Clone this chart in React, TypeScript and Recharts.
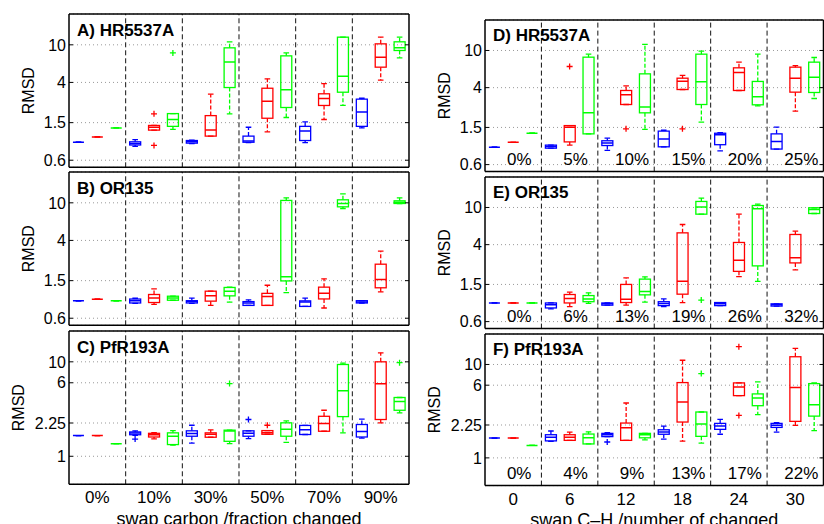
import React from 'react';
import { ComposedChart, Bar, Scatter, XAxis, YAxis, CartesianGrid, ReferenceLine } from 'recharts';

const FONT = '"Liberation Sans", Arial, Helvetica, sans-serif';
const COLORS = ['#0000ff', '#ff0000', '#00ff00'];
const DOMAIN: [number, number] = [0.505, 21.2];

const leftGroups = ['0%', '10%', '30%', '50%', '70%', '90%'];
const rightGroups = ['0', '6', '12', '18', '24', '30'];
const pctD = ['0%', '5%', '10%', '15%', '20%', '25%'];
const pctE = ['0%', '6%', '13%', '19%', '26%', '32%'];
const pctF = ['0%', '4%', '9%', '13%', '17%', '22%'];
const ticksAB = [0.6, 1.5, 4, 10];
const ticksCF = [1, 2.25, 6, 10];

// each box: [min, q1, median, q3, max]
const aBlue = [[0.93, 0.93, 0.93, 0.93, 0.93], [0.84, 0.87, 0.9, 0.94, 0.99], [0.9, 0.91, 0.94, 0.97, 0.98], [0.92, 0.93, 0.96, 1.08, 1.34], [0.92, 0.97, 1.22, 1.37, 1.53], [1.32, 1.37, 1.94, 2.66, 2.72]];
const aRed = [[1.06, 1.06, 1.06, 1.06, 1.06], [1.25, 1.25, 1.34, 1.4, 1.4], [1.08, 1.08, 1.25, 1.78, 3.0], [1.2, 1.67, 2.53, 3.47, 4.36], [1.62, 2.28, 2.7, 3.03, 3.89], [4.22, 5.8, 7.4, 10.24, 12.05]];
const aGreen = [[1.32, 1.32, 1.32, 1.32, 1.32], [1.27, 1.37, 1.62, 1.87, 1.87], [1.86, 3.53, 6.56, 9.29, 10.76], [1.7, 2.17, 3.34, 7.64, 8.2], [2.28, 3.15, 4.66, 12.05, 12.05], [7.28, 8.71, 9.29, 10.76, 12.05]];
const bBlue = [[0.916, 0.916, 0.916, 0.916, 0.916], [0.86, 0.87, 0.916, 0.958, 0.977], [0.86, 0.87, 0.9, 0.92, 0.98], [0.82, 0.82, 0.87, 0.9, 0.94], [0.8, 0.8, 0.89, 0.916, 0.98], [0.87, 0.87, 0.89, 0.92, 0.92]];
const bRed = [[0.954, 0.954, 0.954, 0.954, 0.954], [0.84, 0.88, 0.98, 1.07, 1.228], [0.82, 0.91, 1.035, 1.16, 1.16], [0.82, 0.82, 1.02, 1.1, 1.34], [0.77, 0.96, 1.1, 1.28, 1.566], [1.14, 1.26, 1.54, 2.24, 3.08]];
const bGreen = [[0.916, 0.916, 0.916, 0.916, 0.916], [0.93, 0.93, 0.98, 1.026, 1.026], [0.89, 1.035, 1.16, 1.27, 1.28], [1.12, 1.49, 1.645, 10.6, 11.3], [8.71, 9.07, 9.84, 10.76, 12.45], [9.84, 9.84, 10.16, 10.5, 11.3]];
const cBlue = [[1.656, 1.656, 1.656, 1.656, 1.656], [1.67, 1.69, 1.76, 1.81, 1.86], [1.38, 1.63, 1.74, 1.86, 2.13], [1.54, 1.63, 1.75, 1.86, 1.86], [1.7, 1.7, 1.91, 2.12, 2.12], [1.56, 1.6, 1.83, 2.17, 2.47]];
const cRed = [[1.656, 1.656, 1.656, 1.656, 1.656], [1.53, 1.6, 1.69, 1.75, 1.78], [1.59, 1.59, 1.71, 1.77, 1.9], [1.71, 1.71, 1.77, 1.87, 1.87], [1.84, 1.84, 2.22, 2.65, 3.07], [2.26, 2.45, 5.85, 10.0, 12.45]];
const cGreen = [[1.36, 1.36, 1.36, 1.36, 1.36], [1.31, 1.33, 1.63, 1.77, 1.87], [1.36, 1.44, 1.85, 1.89, 1.89], [1.4, 1.63, 1.93, 2.26, 2.37], [1.77, 2.63, 4.93, 9.37, 9.68], [2.88, 3.07, 3.8, 4.19, 4.19]];
const dBlue = [[0.921, 0.921, 0.921, 0.921, 0.921], [0.9, 0.9, 0.94, 0.97, 0.97], [0.85, 0.96, 1.02, 1.08, 1.15], [0.93, 0.93, 1.13, 1.37, 1.4], [0.84, 0.98, 1.25, 1.3, 1.32], [0.88, 0.88, 1.06, 1.28, 1.51]];
const dRed = [[1.04, 1.04, 1.04, 1.04, 1.04], [0.97, 1.05, 1.51, 1.57, 1.57], [2.64, 2.64, 3.35, 3.73, 4.18], [3.82, 3.82, 4.69, 5.05, 5.4], [3.73, 3.73, 5.81, 6.52, 7.5], [2.24, 3.58, 5.05, 6.63, 6.9]];
const dGreen = [[1.3, 1.3, 1.3, 1.3, 1.3], [1.28, 1.28, 2.15, 8.48, 9.13], [1.43, 2.15, 2.49, 5.62, 11.6], [1.71, 2.64, 4.62, 9.13, 9.84], [2.55, 2.62, 3.19, 4.66, 9.13], [3.06, 3.55, 5.18, 7.5, 8.41]];
const eBlue = [[0.95, 0.95, 0.95, 0.95, 0.95], [0.82, 0.84, 0.91, 0.95, 0.95], [0.9, 0.9, 0.93, 0.95, 0.95], [0.87, 0.89, 0.94, 0.98, 1.05], [0.89, 0.89, 0.93, 0.96, 0.96], [0.88, 0.88, 0.91, 0.93, 0.93]];
const eRed = [[0.95, 0.95, 0.95, 0.95, 0.95], [0.87, 0.95, 1.06, 1.17, 1.24], [0.9, 0.96, 1.04, 1.5, 1.76], [0.96, 1.18, 1.62, 5.35, 6.57], [1.82, 2.07, 2.73, 4.22, 8.48], [2.15, 2.55, 2.89, 5.14, 5.58]];
const eGreen = [[0.95, 0.95, 0.95, 0.95, 0.95], [0.94, 0.98, 1.05, 1.14, 1.22], [0.97, 1.16, 1.26, 1.71, 1.81], [8.48, 8.48, 10.1, 11.6, 12.6], [1.62, 2.37, 9.67, 10.5, 10.86], [8.62, 8.62, 9.52, 9.92, 9.92]];
const fBlue = [[1.63, 1.63, 1.63, 1.63, 1.63], [1.5, 1.52, 1.66, 1.77, 1.94], [1.69, 1.69, 1.77, 1.83, 1.86], [1.59, 1.79, 1.89, 2.0, 2.19], [1.79, 2.02, 2.19, 2.34, 2.58], [1.89, 2.12, 2.23, 2.34, 2.38]];
const fRed = [[1.63, 1.63, 1.63, 1.63, 1.63], [1.54, 1.54, 1.66, 1.77, 1.89], [1.54, 1.54, 2.1, 2.36, 3.87], [1.51, 2.42, 3.97, 6.4, 11.1], [4.64, 4.64, 5.75, 6.35, 6.35], [2.23, 2.46, 5.66, 12.1, 14.9]];
const fGreen = [[1.36, 1.36, 1.36, 1.36, 1.36], [1.41, 1.41, 1.64, 1.8, 1.9], [1.56, 1.64, 1.77, 1.83, 1.83], [1.44, 1.7, 2.3, 3.1, 3.1], [2.9, 3.62, 4.38, 4.84, 6.51], [1.96, 2.8, 3.71, 6.24, 6.35]];

// outliers: [group, series (0 blue, 1 red, 2 green), value]
const aOut = [[1, 1, 1.86], [1, 1, 0.86], [1, 2, 8.2]];
const bOut: number[][] = [];
const cOut = [[1, 0, 1.52], [2, 2, 5.89], [3, 0, 2.45], [3, 1, 2.13], [5, 2, 9.8]];
const dOut = [[1, 1, 6.74], [2, 1, 1.45], [3, 1, 1.45]];
const eOut = [[3, 2, 1.02]];
const fOut = [[2, 0, 1.48], [3, 2, 8.0], [4, 1, 15.5], [4, 1, 2.85]];

const BOX_W = 11;
const CAP = 2.8;
const LW = 1.3;
const MT = 4;
const MR = 4;
const MB = 6;

function buildRows(series: number[][][]) {
  const rows: any[] = [];
  const n = series[0].length;
  for (let g = 0; g < n; g++) {
    for (let k = 0; k < series.length; k++) {
      const b = series[k][g];
      rows.push({ id: `${g}-${k}`, x: g * series.length + k + 0.5, min: b[0], q1: b[1], med: b[2], q3: b[3], max: b[4], color: COLORS[k] });
    }
  }
  return rows;
}

function span(p: any) {
  const y1 = p.y;
  const y2 = p.y + p.height;
  return { top: Math.min(y1, y2), bot: Math.max(y1, y2), cx: p.x + p.width / 2 };
}
const valid = (p: any) => p && p.payload && Number.isFinite(p.x) && Number.isFinite(p.y) && Number.isFinite(p.height);

const BoxShape = (p: any) => {
  if (!valid(p)) return <g />;
  const { top, bot } = span(p);
  return <rect x={p.x} y={top} width={p.width} height={bot - top} fill="none" stroke={p.payload.color} strokeWidth={LW} />;
};
const UpperWhisker = (p: any) => {
  if (!valid(p)) return <g />;
  const { top, bot, cx } = span(p);
  const c = p.payload.color;
  return (
    <g>
      <line x1={cx} x2={cx} y1={bot} y2={top} stroke={c} strokeWidth={LW} strokeDasharray="4 2" />
      <line x1={cx - CAP} x2={cx + CAP} y1={top} y2={top} stroke={c} strokeWidth={LW} />
    </g>
  );
};
const LowerWhisker = (p: any) => {
  if (!valid(p)) return <g />;
  const { top, bot, cx } = span(p);
  const c = p.payload.color;
  return (
    <g>
      <line x1={cx} x2={cx} y1={top} y2={bot} stroke={c} strokeWidth={LW} strokeDasharray="4 2" />
      <line x1={cx - CAP} x2={cx + CAP} y1={bot} y2={bot} stroke={c} strokeWidth={LW} />
    </g>
  );
};
const MedShape = (p: any) => {
  if (!p || !Number.isFinite(p.cx) || !Number.isFinite(p.cy)) return <g />;
  const c = p.payload?.color || '#000';
  return <line x1={p.cx - BOX_W / 2} x2={p.cx + BOX_W / 2} y1={p.cy} y2={p.cy} stroke={c} strokeWidth={LW + 0.2} />;
};
const PlusShape = (p: any) => {
  if (!p || !Number.isFinite(p.cx) || !Number.isFinite(p.cy)) return <g />;
  const c = p.payload?.color || '#000';
  return (
    <g>
      <line x1={p.cx - 3} x2={p.cx + 3} y1={p.cy} y2={p.cy} stroke={c} strokeWidth={1.3} />
      <line x1={p.cx} x2={p.cx} y1={p.cy - 3} y2={p.cy + 3} stroke={c} strokeWidth={1.3} />
    </g>
  );
};
const EmptyTick = () => <g />;

type PanelProps = {
  title: string;
  series: number[][][];
  outliers: number[][];
  ticks: number[];
  left: number;
  top: number;
  pw: number;
  ph: number;
  yw: number;
  titleDy: number;
  groupLabels?: string[];
  xLabel?: string;
  innerLabels?: string[];
};

function Panel(p: PanelProps) {
  const rows = buildRows(p.series);
  const ns = p.series.length;
  const ng = p.series[0].length;
  const N = ng * ns;
  const outRows = p.outliers.map(([g, k, v]) => ({ x: g * ns + k + 0.5, v, color: COLORS[k] }));
  const centers = p.series[0].map((_, g) => g * ns + ns / 2);
  const seps = p.series[0].slice(1).map((_, g) => (g + 1) * ns);
  const groupLabels = p.groupLabels;
  const bottomH = groupLabels ? 50 : 1;
  const mb = groupLabels ? 0 : MB;
  const YW = p.yw;
  const W = YW + p.pw + MR;
  const H = MT + 1 + p.ph + bottomH + mb;
  const border = { stroke: '#000', strokeWidth: 1.5 };
  const inner = p.innerLabels;
  const renderTitle = (lp: any) => {
    const vb = lp.viewBox || { x: 0, y: 0 };
    return (
      <text x={vb.x + 8} y={vb.y + 1 + p.titleDy} fontSize={17} fontWeight="bold" fill="#000" fontFamily={FONT}>
        {p.title}
      </text>
    );
  };
  return (
    <div style={{ position: 'absolute', left: p.left - YW, top: p.top - MT - 1 }}>
      <ComposedChart width={W} height={H} data={rows} margin={{ top: MT, right: MR, bottom: mb, left: 0 }}>
        <XAxis
          xAxisId="num"
          dataKey="x"
          type="number"
          domain={[0, N]}
          allowDataOverflow
          ticks={centers}
          interval={0}
          height={bottomH}
          tickSize={0}
          tickMargin={7}
          axisLine={border}
          tickLine={false}
          tick={groupLabels ? { fontSize: 17, fill: '#000', fontFamily: FONT } : EmptyTick}
          tickFormatter={(v: number) => (groupLabels ? groupLabels[Math.floor(v / ns)] : '')}
          label={p.xLabel ? { value: p.xLabel, position: 'insideBottom', offset: 9.5, fontSize: 18, fill: '#000', fontFamily: FONT } : undefined}
        />
        <XAxis xAxisId="c1" dataKey="id" hide height={0} />
        <XAxis xAxisId="c2" dataKey="id" hide height={0} />
        <XAxis xAxisId="c3" dataKey="id" hide height={0} />
        {inner && (
          <XAxis
            xAxisId="in"
            type="number"
            dataKey="x"
            domain={[0, N]}
            allowDataOverflow
            mirror
            height={1}
            ticks={centers}
            interval={0}
            tickSize={0}
            tickMargin={6.5}
            axisLine={false}
            tickLine={false}
            tick={(t: any) => (
              <text x={t.x + 6} y={t.y} textAnchor="middle" fontSize={17} fill="#000" fontFamily={FONT}>
                {inner[Math.floor(t.payload.value / ns)]}
              </text>
            )}
          />
        )}
        <XAxis
          xAxisId="top"
          orientation="top"
          type="number"
          domain={[0, N]}
          allowDataOverflow
          height={1}
          ticks={centers}
          interval={0}
          tick={EmptyTick}
          tickLine={false}
          axisLine={border}
          label={{ value: p.title, content: renderTitle }}
        />
        <YAxis
          yAxisId="y"
          scale="log"
          domain={DOMAIN}
          allowDataOverflow
          ticks={p.ticks}
          interval={0}
          width={YW}
          tickSize={0}
          tickMargin={3}
          axisLine={border}
          tickLine={false}
          tick={{ fontSize: 16, fill: '#000', fontFamily: FONT }}
          label={{ value: 'RMSD', angle: -90, position: 'center', fontSize: 16, fill: '#000', fontFamily: FONT }}
        />
        <YAxis yAxisId="yl" orientation="left" mirror scale="log" domain={DOMAIN} allowDataOverflow ticks={p.ticks} interval={0} tickSize={4} axisLine={false} tickLine={{ stroke: '#000' }} tick={EmptyTick} />
        <YAxis yAxisId="yr" orientation="right" mirror scale="log" domain={DOMAIN} allowDataOverflow ticks={p.ticks} interval={0} tickSize={4} axisLine={border} tickLine={{ stroke: '#000' }} tick={EmptyTick} />
        <CartesianGrid xAxisId="num" yAxisId="y" vertical={false} stroke="#999" strokeDasharray="1 3" />
        {seps.map((s) => (
          <ReferenceLine key={s} xAxisId="num" yAxisId="y" x={s} stroke="#111" strokeWidth={1} strokeDasharray="5 3" />
        ))}
        <Bar xAxisId="c1" yAxisId="y" dataKey={(d: any) => [d.q3, d.max]} barSize={BOX_W} shape={UpperWhisker} isAnimationActive={false} />
        <Bar xAxisId="c2" yAxisId="y" dataKey={(d: any) => [d.min, d.q1]} barSize={BOX_W} shape={LowerWhisker} isAnimationActive={false} />
        <Bar xAxisId="c3" yAxisId="y" dataKey={(d: any) => [d.q1, d.q3]} barSize={BOX_W} shape={BoxShape} isAnimationActive={false} />
        <Scatter xAxisId="num" yAxisId="y" data={rows} dataKey="med" shape={MedShape} isAnimationActive={false} />
        <Scatter xAxisId="num" yAxisId="y" data={outRows} dataKey="v" shape={PlusShape} isAnimationActive={false} />
      </ComposedChart>
    </div>
  );
}

export default function App() {
  const LX = 69.3;
  const RX = 485;
  const LPW = 340;
  const RPW = 338.5;
  const LH = 153.3;
  const RH = 151.6;
  return (
    <div style={{ position: 'absolute', left: 0, top: 0, width: 824, height: 524, overflow: 'hidden', background: '#fff', fontFamily: FONT }}>
      <Panel title="A) HR5537A" series={[aBlue, aRed, aGreen]} outliers={aOut} ticks={ticksAB} left={LX} top={14.3} pw={LPW} ph={LH} yw={82} titleDy={22.5} />
      <Panel title="B) OR135" series={[bBlue, bRed, bGreen]} outliers={bOut} ticks={ticksAB} left={LX} top={171.8} pw={LPW} ph={LH} yw={82} titleDy={22.5} />
      <Panel title="C) PfR193A" series={[cBlue, cRed, cGreen]} outliers={cOut} ticks={ticksCF} left={LX} top={330.8} pw={LPW} ph={LH} yw={101} titleDy={22.5} groupLabels={leftGroups} xLabel="swap carbon /fraction changed" />
      <Panel title="D) HR5537A" series={[dBlue, dRed, dGreen]} outliers={dOut} ticks={ticksAB} left={RX} top={19.5} pw={RPW} ph={RH} yw={82} titleDy={21.5} innerLabels={pctD} />
      <Panel title="E) OR135" series={[eBlue, eRed, eGreen]} outliers={eOut} ticks={ticksAB} left={RX} top={176.5} pw={RPW} ph={RH} yw={82} titleDy={21.5} innerLabels={pctE} />
      <Panel title="F) PfR193A" series={[fBlue, fRed, fGreen]} outliers={fOut} ticks={ticksCF} left={RX} top={333.8} pw={RPW} ph={RH} yw={101} titleDy={21.5} groupLabels={rightGroups} xLabel="swap C–H /number of changed" innerLabels={pctF} />
    </div>
  );
}
